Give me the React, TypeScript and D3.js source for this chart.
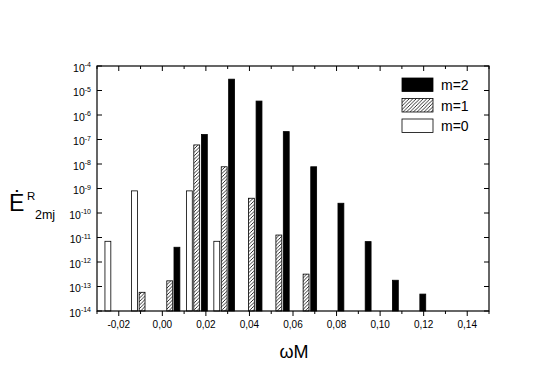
import { useEffect, useRef } from "react";
import * as d3 from "d3";

// values (omega*M, energy flux)
const m2Omega = [0.0067, 0.0193, 0.0318, 0.0444, 0.0569, 0.0695, 0.082, 0.0945, 0.107, 0.1196];
const m2Values = [4e-12, 1.6e-7, 2.9e-5, 3.7e-6, 2.1e-7, 7.7e-9, 2.5e-10, 6.8e-12, 1.8e-13, 4.9e-14];
const m1Omega = [-0.0093, 0.0034, 0.0158, 0.0284, 0.0409, 0.0535, 0.066];
const m1Values = [5.8e-14, 1.7e-13, 6e-8, 7.7e-9, 4e-10, 1.26e-11, 3.2e-13];
const m0Omega = [-0.025, -0.0128, 0.0124, 0.025];
const m0Values = [7e-12, 8e-10, 8e-10, 7e-12];
const xTicks = [-0.02, 0, 0.02, 0.04, 0.06, 0.08, 0.1, 0.12, 0.14];
const legendLabels = ["m=2", "m=1", "m=0"];

export default function App() {
  const svgRef = useRef<SVGSVGElement>(null);

  useEffect(() => {
    const W = 545, H = 377;
    const left = 97, right = 489, top = 66, bottom = 311;
    const font = "Liberation Sans, Arial, sans-serif";

    const svg = d3.select(svgRef.current).attr("width", W).attr("height", H);
    svg.selectAll("*").remove();

    const x = d3.scaleLinear().domain([-0.03, 0.15]).range([left, right]);
    const y = d3.scaleLog().domain([1e-14, 1e-4]).range([bottom, top]);
    const barW = 0.0027;

    svg.append("rect").attr("width", W).attr("height", H).attr("fill", "white");

    const pat = svg.append("defs").append("pattern")
      .attr("id", "hatch").attr("patternUnits", "userSpaceOnUse")
      .attr("width", 3.5).attr("height", 3.5);
    pat.append("rect").attr("width", 3.5).attr("height", 3.5).attr("fill", "white");
    pat.append("path")
      .attr("d", "M-1,1 l2,-2 M0,3.5 l3.5,-3.5 M2.5,4.5 l2,-2")
      .attr("stroke", "black").attr("stroke-width", 0.8);

    const series = [
      { om: m2Omega, v: m2Values, fill: "black" },
      { om: m1Omega, v: m1Values, fill: "url(#hatch)" },
      { om: m0Omega, v: m0Values, fill: "white" },
    ];

    series.forEach(s => {
      const data = s.om.map((o, i) => ({ o, v: s.v[i] }));
      svg.append("g").selectAll("rect").data(data).join("rect")
        .attr("x", d => x(d.o - barW / 2))
        .attr("width", d => x(d.o + barW / 2) - x(d.o - barW / 2))
        .attr("y", d => y(d.v))
        .attr("height", d => bottom - y(d.v))
        .attr("fill", s.fill)
        .attr("stroke", "black")
        .attr("stroke-width", 0.8);
    });

    // frame
    svg.append("rect")
      .attr("x", left).attr("y", top)
      .attr("width", right - left).attr("height", bottom - top)
      .attr("fill", "none").attr("stroke", "black").attr("stroke-width", 1.2);

    // y ticks (log), inward on both sides
    const yt = y.ticks();
    const isDecade = (t: number) => Math.abs(Math.log10(t) - Math.round(Math.log10(t))) < 1e-6;
    const g = svg.append("g").attr("stroke", "black").attr("stroke-width", 1);
    yt.forEach(t => {
      const len = isDecade(t) ? 5 : 3;
      g.append("line").attr("x1", left).attr("x2", left + len).attr("y1", y(t)).attr("y2", y(t));
      g.append("line").attr("x1", right).attr("x2", right - len).attr("y1", y(t)).attr("y2", y(t));
    });

    // x ticks: bottom outward, top inward
    const xMinor = d3.range(-0.03, 0.1501, 0.01);
    xMinor.forEach(t => {
      const major = xTicks.some(m => Math.abs(m - t) < 1e-6);
      const len = major ? 5 : 3;
      g.append("line").attr("x1", x(t)).attr("x2", x(t)).attr("y1", bottom).attr("y2", bottom + len);
      g.append("line").attr("x1", x(t)).attr("x2", x(t)).attr("y1", top).attr("y2", top + len);
    });

    // y tick labels, right aligned
    yt.filter(isDecade).forEach(t => {
      const e = Math.round(Math.log10(t));
      const tx = svg.append("text")
        .attr("x", 91).attr("y", y(t) + 5.5)
        .attr("text-anchor", "end")
        .attr("font-family", font).attr("font-size", 10.5);
      tx.append("tspan").text("10");
      tx.append("tspan").attr("dy", -4.5).attr("font-size", 7).text(String(e));
    });

    // x tick labels
    svg.append("g").selectAll("text").data(xTicks).join("text")
      .attr("x", d => x(d)).attr("y", bottom + 17)
      .attr("text-anchor", "middle")
      .attr("font-family", font).attr("font-size", 10)
      .text(d => d3.format(".2f")(d).replace("−", "-").replace(".", ","));

    // axis titles
    svg.append("text")
      .attr("x", 294).attr("y", 358).attr("text-anchor", "middle")
      .attr("font-family", font).attr("font-size", 18).text("ωM");

    svg.append("text").attr("x", 9).attr("y", 211)
      .attr("font-family", font).attr("font-size", 23).text("Ė");
    svg.append("text").attr("x", 27).attr("y", 200)
      .attr("font-family", font).attr("font-size", 11.5).text("R");
    svg.append("text").attr("x", 35).attr("y", 219)
      .attr("font-family", font).attr("font-size", 12.5).text("2mj");

    // legend
    const fills = ["black", "url(#hatch)", "white"];
    const lg = svg.append("g").attr("transform", "translate(402,78)");
    legendLabels.forEach((lab, i) => {
      lg.append("rect").attr("x", 0).attr("y", i * 20.5)
        .attr("width", 31).attr("height", 13.5)
        .attr("fill", fills[i]).attr("stroke", "black").attr("stroke-width", 0.8);
      lg.append("text").attr("x", 39).attr("y", i * 20.5 + 12)
        .attr("font-family", font).attr("font-size", 14).text(lab);
    });
  }, []);

  return (
    <div style={{ position: "absolute", left: 0, top: 0 }}>
      <svg ref={svgRef} style={{ display: "block" }}></svg>
    </div>
  );
}
